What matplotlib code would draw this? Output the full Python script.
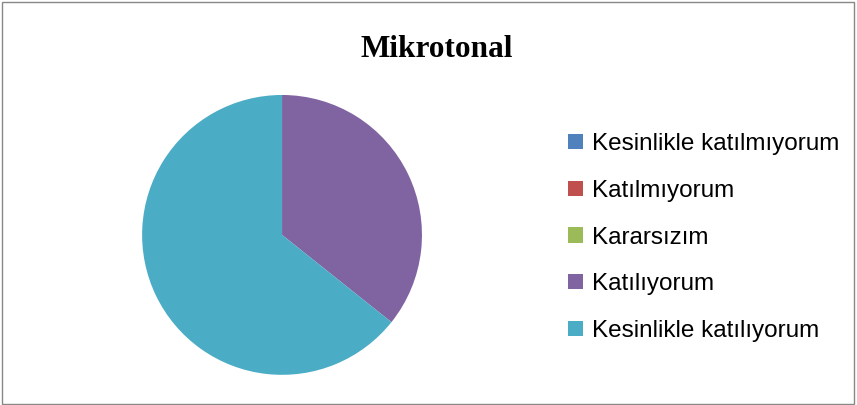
import matplotlib.pyplot as plt
from matplotlib.patches import Rectangle, Patch

labels = ["Kesinlikle katılmıyorum", "Katılmıyorum", "Kararsızım",
          "Katılıyorum", "Kesinlikle katılıyorum"]
values = [0, 0, 0, 5, 9]
colors = ["#4F81BD", "#C0504D", "#9BBB59", "#8064A2", "#4BACC6"]

fig = plt.figure(figsize=(8.57, 4.05), dpi=100)

ax = fig.add_axes([0.1656, 0.0745, 0.327, 0.691])
ax.pie(values, colors=colors, startangle=90, counterclock=False,
       wedgeprops=dict(linewidth=0))
ax.set_aspect("equal")
ax.set_xlim(-1, 1)
ax.set_ylim(-1, 1)

fig.text(0.51, 0.878, "Mikrotonal", ha="center", va="center",
         family="Liberation Serif", fontweight="bold", fontsize=22.5)

handles = [Patch(facecolor=c, edgecolor="none") for c in colors]
fig.legend(handles, labels, loc="center left", bbox_to_anchor=(0.652, 0.4135),
           frameon=False, prop=dict(family="Liberation Sans", size=17.5),
           handlelength=0.58, handleheight=0.58, handletextpad=0.4,
           labelspacing=1.02, borderaxespad=0)

fig.patches.append(Rectangle((0.002, 0.003), 0.995, 0.993, transform=fig.transFigure,
                             fill=False, edgecolor="#888888", linewidth=1))

fig.savefig("out.png", dpi=100)
